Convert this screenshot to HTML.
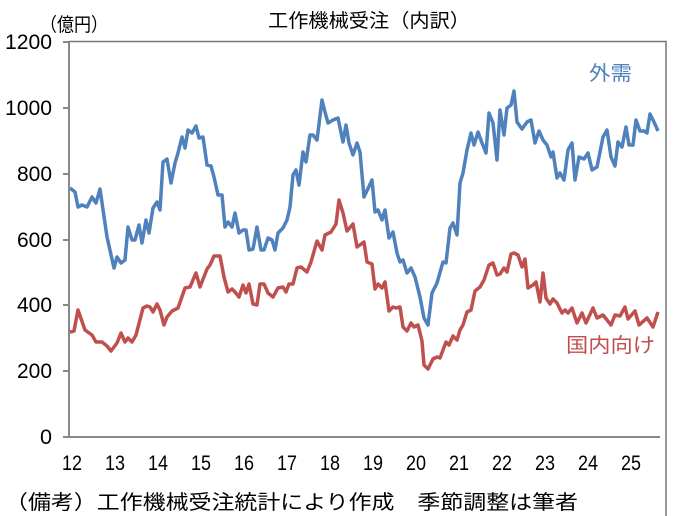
<!DOCTYPE html>
<html><head><meta charset="utf-8"><style>
html,body{margin:0;padding:0;background:#fff;}
svg{display:block;font-family:"Liberation Sans","Noto Sans CJK JP",sans-serif;}
</style></head><body>
<svg width="675" height="516" viewBox="0 0 675 516">
<rect width="675" height="516" fill="#fff"/>
<text x="40" y="31" font-size="19" fill="#000" font-family="Noto Sans CJK JP,sans-serif" textLength="68" lengthAdjust="spacingAndGlyphs">（億円）</text>
<text x="268" y="27" font-size="19" fill="#000" font-family="Noto Sans CJK JP,sans-serif" textLength="202" lengthAdjust="spacingAndGlyphs">工作機械受注（内訳）</text>
<g stroke="#888" stroke-width="2" fill="none">
<line x1="69" y1="42" x2="69" y2="437"/>
<line x1="63" y1="437" x2="660" y2="437"/>
<line x1="63" y1="42" x2="69" y2="42"/><line x1="63" y1="108" x2="69" y2="108"/>
<line x1="63" y1="174" x2="69" y2="174"/><line x1="63" y1="240" x2="69" y2="240"/>
<line x1="63" y1="305" x2="69" y2="305"/><line x1="63" y1="371" x2="69" y2="371"/>
</g>
<polyline fill="none" stroke="#777" stroke-width="1.5" points="69,41.5 666,41.5 666,516"/>
<g font-size="21" fill="#000" text-anchor="end">
<text x="52" y="49" textLength="47" lengthAdjust="spacingAndGlyphs">1200</text>
<text x="52" y="115" textLength="47" lengthAdjust="spacingAndGlyphs">1000</text>
<text x="52" y="181" textLength="35" lengthAdjust="spacingAndGlyphs">800</text>
<text x="52" y="247" textLength="35" lengthAdjust="spacingAndGlyphs">600</text>
<text x="52" y="312" textLength="35" lengthAdjust="spacingAndGlyphs">400</text>
<text x="52" y="378" textLength="35" lengthAdjust="spacingAndGlyphs">200</text>
<text x="52" y="444" textLength="12" lengthAdjust="spacingAndGlyphs">0</text>
</g>
<g font-size="21" fill="#000" text-anchor="middle">
<text x="72" y="470" textLength="20" lengthAdjust="spacingAndGlyphs">12</text>
<text x="115" y="470" textLength="20" lengthAdjust="spacingAndGlyphs">13</text>
<text x="158" y="470" textLength="20" lengthAdjust="spacingAndGlyphs">14</text>
<text x="201" y="470" textLength="20" lengthAdjust="spacingAndGlyphs">15</text>
<text x="244" y="470" textLength="20" lengthAdjust="spacingAndGlyphs">16</text>
<text x="287" y="470" textLength="20" lengthAdjust="spacingAndGlyphs">17</text>
<text x="330" y="470" textLength="20" lengthAdjust="spacingAndGlyphs">18</text>
<text x="373" y="470" textLength="20" lengthAdjust="spacingAndGlyphs">19</text>
<text x="416" y="470" textLength="20" lengthAdjust="spacingAndGlyphs">20</text>
<text x="459" y="470" textLength="20" lengthAdjust="spacingAndGlyphs">21</text>
<text x="502" y="470" textLength="20" lengthAdjust="spacingAndGlyphs">22</text>
<text x="545" y="470" textLength="20" lengthAdjust="spacingAndGlyphs">23</text>
<text x="588" y="470" textLength="20" lengthAdjust="spacingAndGlyphs">24</text>
<text x="631" y="470" textLength="20" lengthAdjust="spacingAndGlyphs">25</text>
</g>
<polyline fill="none" stroke="#4f81bd" stroke-width="3.5" stroke-linejoin="round" points="70,188 75,192 78,207 82,205 87,207 92,197 96,203 100,189 107,237 114,268 117,257 121,263 125,260 128,227 132,240 135,240 139,225 142,243 146,220 149,233 153,208 157,202 160,210 163,162 167,159 171,183 175,163 178,153 182,137 185,148 188,130 192,133 196,126 199,138 203,137 207,165 211,166 214,177 218,195 222,195 225,227 228,222 232,227 235,213 239,233 243,230 246,230 249,250 253,249 257,227 261,250 264,250 268,238 272,240 275,250 278,233 283,228 287,220 290,207 293,175 296,170 299,185 303,152 306,162 310,135 313,135 317,140 322,100 325,112 328,123 333,120 338,118 343,142 346,125 349,143 353,155 357,143 360,152 364,197 372,180 375,212 378,210 382,220 385,210 389,238 393,232 397,253 400,262 403,260 407,273 411,268 415,277 420,297 424,318 428,325 432,293 437,283 443,262 446,263 450,228 453,223 457,235 460,183 463,173 467,150 471,133 474,145 478,132 482,143 486,153 489,113 493,123 497,160 500,110 504,135 507,108 511,105 514,91 517,122 522,129 527,122 531,120 535,143 539,131 543,140 547,145 551,157 553,152 557,178 560,173 564,180 568,150 572,143 575,180 579,157 584,159 588,153 592,170 597,167 603,137 607,130 611,157 615,166 618,142 622,147 626,127 629,145 633,145 636,120 640,131 644,131 647,133 650,114 654,122 658,131"/>
<polyline fill="none" stroke="#c0504d" stroke-width="3.5" stroke-linejoin="round" points="70,332 74,331 78,310 85,330 92,335 96,342 102,342 107,346 111,351 117,343 121,333 125,342 128,338 132,342 136,335 143,308 147,306 150,307 153,312 157,304 160,310 164,325 167,317 172,311 178,308 185,288 190,287 196,273 200,287 207,269 210,265 214,256 220,256 224,277 228,292 232,289 235,292 239,297 243,285 246,293 249,284 253,304 257,305 260,284 264,284 268,293 273,297 278,288 283,287 286,292 289,284 293,284 297,268 301,267 307,272 311,262 317,241 322,250 325,235 331,232 336,224 339,200 343,213 347,231 353,224 357,247 364,242 367,262 372,264 375,289 378,284 382,288 385,282 389,311 393,307 396,308 400,307 403,327 407,331 411,323 414,327 418,325 422,341 424,365 428,369 433,359 437,357 440,358 446,342 449,345 453,336 457,340 460,330 463,325 467,312 471,310 475,291 480,287 484,280 489,265 493,263 497,275 500,274 504,268 507,272 511,254 514,253 518,255 522,267 525,259 528,288 533,285 536,282 540,302 543,273 546,298 550,304 553,299 557,303 562,313 565,310 568,313 572,308 577,323 582,313 586,323 593,308 597,318 603,315 611,325 615,315 620,316 625,307 628,319 635,311 639,325 647,318 653,327 658,312"/>
<text x="589" y="80" font-size="20" fill="#4f81bd" font-family="Noto Sans CJK JP,sans-serif" textLength="43" lengthAdjust="spacingAndGlyphs">外需</text>
<text x="566" y="352" font-size="20" fill="#c0504d" font-family="Noto Sans CJK JP,sans-serif" textLength="89" lengthAdjust="spacingAndGlyphs">国内向け</text>
<text x="5" y="509" font-size="20" fill="#000" font-family="Noto Sans CJK JP,sans-serif" textLength="573" lengthAdjust="spacingAndGlyphs">（備考）工作機械受注統計により作成　季節調整は筆者</text>
</svg>
</body></html>
